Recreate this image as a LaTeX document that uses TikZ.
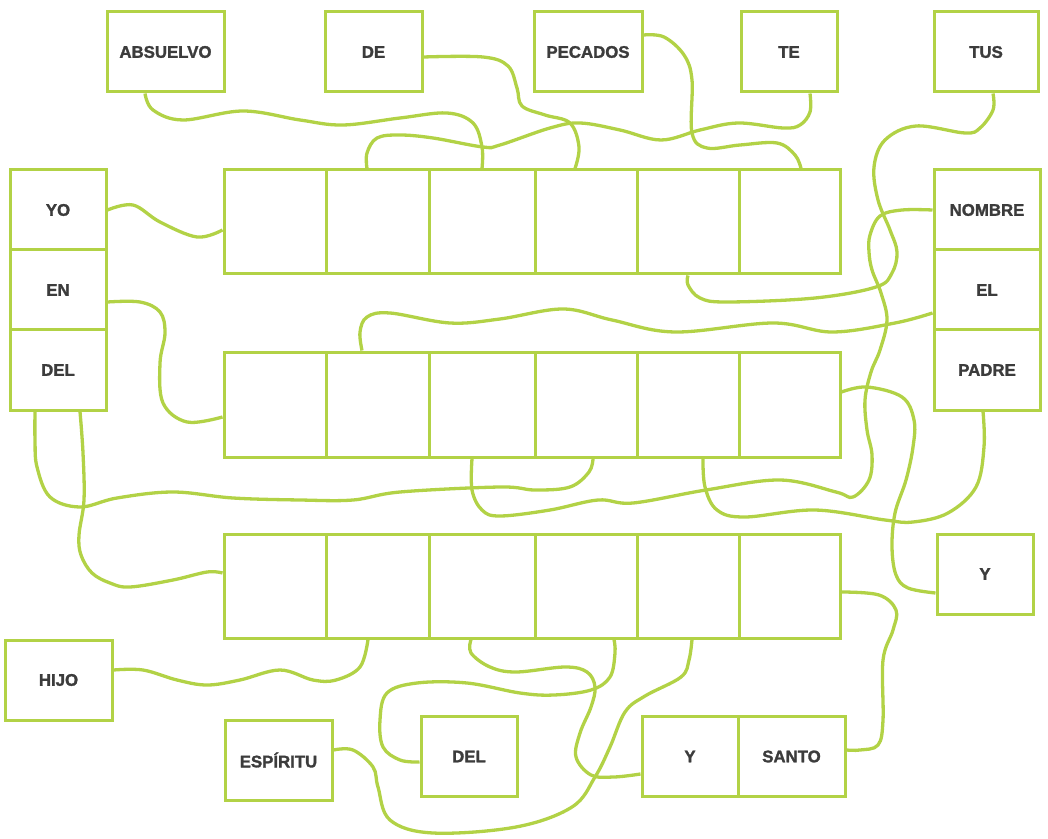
\documentclass[tikz,border=0pt]{standalone}
\usepackage{fontspec}
\setmainfont{Liberation Sans}
\newfontfamily\heavyfont[FakeBold=1.6]{Liberation Sans Bold}
\usepackage{tikz}
\usetikzlibrary{fit}
\definecolor{leaf}{RGB}{178,210,70}
\definecolor{ink}{RGB}{60,60,60}

\begin{document}
\begin{tikzpicture}[
  x=0.5pt, y=-0.5pt,
  word/.style={draw=leaf, line width=1.5pt, rectangle, inner sep=0pt,
    minimum width=48pt, minimum height=40pt, text=ink,
    font=\heavyfont\fontsize{8.4}{10}\selectfont},
  cell/.style={draw=leaf, line width=1.5pt, rectangle, inner sep=0pt},
  wire/.style={draw=leaf, line width=1.65pt, smooth, tension=0.6}
]
\useasboundingbox (0,0) rectangle (1048,839);

% Three rows of six empty cells.
\foreach \row/\ya/\yb in {1/170/274, 2/352/457, 3/534/638}
  \foreach \col/\xa/\xb in {1/224/326, 2/326/429, 3/429/535, 4/535/637, 5/637/739, 6/739/840}
    \node[cell, fit={(\xa,\ya) (\xb,\yb)}] (r\row c\col) {};

% Word boxes.
\node[word, minimum width=58.5pt] (absuelvo) at (165.5,52) {ABSUELVO};
\node[word, minimum width=48.5pt] (de) at (373.5,52) {DE};
\node[word, minimum width=54pt] (pecados) at (588,52) {PECADOS};
\node[word] (te) at (789,52) {TE};
\node[word, minimum width=52pt] (tus) at (986,52) {TUS};

\node[word] (yo) at (58,210) {YO};
\node[word] (en) at (58,290) {EN};
\node[word] (del) at (58,370) {DEL};

\node[word, minimum width=53pt] (nombre) at (987,210) {NOMBRE};
\node[word, minimum width=53pt] (el) at (987,290) {EL};
\node[word, minimum width=53pt] (padre) at (987,370) {PADRE};
\node[word] (yright) at (985,574) {Y};

\node[word, minimum width=53.5pt] (hijo) at (58.5,680) {HIJO};
\node[word, minimum width=53.5pt] (espiritu) at (278.5,760) {ESPÍRITU};
\node[word] (delb) at (469,756.5) {DEL};
\node[word] (ybot) at (690,756.5) {Y};
\node[word, minimum width=53.5pt] (santo) at (791.5,756.5) {SANTO};

% First row.
\draw[wire] plot coordinates {(yo.east) (133,205) (160,222) (197,237) ([yshift=-4pt]r1c1.west)};
\draw[wire] plot coordinates {([xshift=-10.25pt]absuelvo.south) (153,110) (183,120) (243,111)
  (300,120) (343,125) (400,118) (447,113) (473,123) (482,147) (r1c3.north)};
\draw[wire] plot coordinates {([yshift=-2.5pt]de.east) (483,57) (508,66) (517,88) (522,106)
  (545,115) (570,123) (579,147) ([xshift=-5.5pt]r1c4.north)};
\draw[wire] plot coordinates {([yshift=8.5pt]pecados.east) (664,37) (684,55) (692,80) (692,133)
  (707,148) (740,145) (777,143) (795,155) ([xshift=5.75pt]r1c6.north)};
\draw[wire] plot coordinates {([xshift=10.5pt]te.south) (810,112) (800,125) (783,128) (738,123)
  (700,130) (661,140) (620,130) (580,123) (550,128) (500,145) (483,147) (433,138)
  (400,135) (377,138) (367,153) ([xshift=-5.25pt]r1c2.north)};
\draw[wire] plot coordinates {([xshift=3.5pt]tus.south) (993,110) (980,128) (965,133) (916,126)
  (885,140) (874,167) (878,200) (890,230) (897,252) (892,273) (876,287) (815,298)
  (727,302) (700,298) (688,285) (r1c5.south)};

% Second row.
\draw[wire] plot coordinates {([yshift=-6pt]en.east) (140,302) (160,312) (165,333) (160,363)
  (163,403) (187,422) ([yshift=-6.25pt]r2c1.west)};
\draw[wire] plot coordinates {([yshift=-11.5pt]el.west) (895,323) (832,332) (773,323) (675,332)
  (612,320) (563,309) (500,319) (450,323) (390,313) (367,317) (360,332)
  ([xshift=-7.75pt]r2c2.north)};
\draw[wire] plot coordinates {(nombre.west) (902,210) (880,216) (870,235) (869,252) (872,270)
  (881,293) (887,320) (880,350) (871,372) (865,400) (867,430) (872,455) (869,480)
  (853,497) (836,492) (780,480) (706,490) (633,503) (598,500) (550,510) (500,516)
  (482,510) (472,490) ([xshift=-5pt]r2c3.south)};
\draw[wire] plot coordinates {([xshift=-11.5pt]del.south) (35,440) (37,467) (50,497) (80,507)
  (117,498) (173,492) (233,498) (300,500) (353,500) (400,492) (500,487) (535,490)
  (570,487) (589,472) ([xshift=3.5pt]r2c4.south)};
\draw[wire] plot coordinates {([xshift=-2pt]padre.south) (984,447) (976,487) (948,513)
  (913,522) (885,520) (815,510) (745,517) (717,510) (705,487) ([xshift=7.5pt]r2c5.south)};
\draw[wire] plot coordinates {([yshift=6.25pt]r2c6.east) (867,387) (902,397) (914,420)
  (913,447) (906,480) (895,513) (892,547) (896,575) (908,588) ([yshift=-9.5pt]yright.west)};

% Third row.
\draw[wire] plot coordinates {([xshift=11pt]del.south) (83,453) (84,500) (79,535) (81,555)
  (92,573) (110,583) (130,587) (173,580) (207,572) ([yshift=6.5pt]r3c1.west)};
\draw[wire] plot coordinates {([yshift=5pt]hijo.east) (143,670) (177,680) (207,685) (240,680)
  (280,670) (313,680) (336,680) (360,667) ([xshift=-4.75pt]r3c2.south)};
\draw[wire] plot coordinates {([xshift=-5.5pt]r3c3.south) (471,653) (490,667) (516,672)
  (565,667) (587,672) (595,687) (591,707) (580,733) (576,757) (591,775) (614,777)
  ([yshift=-8.75pt]ybot.west)};
\draw[wire] plot coordinates {([yshift=-2.75pt]delb.west) (400,760) (383,747) (380,720)
  (387,693) (417,683) (467,683) (520,693) (554,695) (591,690) (610,677) (615,653)
  ([xshift=14pt]r3c4.south)};
\draw[wire] plot coordinates {([yshift=5pt]espiritu.east) (353,750) (373,767) (378,787)
  (390,820) (433,833) (516,827) (572,807) (595,777) (610,747) (625,712) (645,696)
  (681,677) (689,660) ([xshift=2pt]r3c5.south)};
\draw[wire] plot coordinates {([yshift=-3pt]r3c6.east) (879,595) (896,610) (893,630)
  (883,660) (883,720) (878,745) (860,750) ([yshift=3.25pt]santo.east)};

\end{tikzpicture}
\end{document}
